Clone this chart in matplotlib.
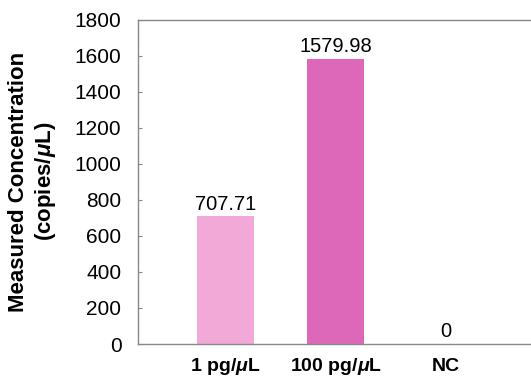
import matplotlib
matplotlib.use("Agg")
import matplotlib.pyplot as plt

plt.rcParams.update({
    "font.family": "Liberation Sans",
    "mathtext.fontset": "custom",
    "mathtext.it": "Liberation Sans:italic:bold",
    "mathtext.rm": "Liberation Sans:bold",
})

categories = [r"1 pg/$\mu$L", r"100 pg/$\mu$L", "NC"]
values = [707.71, 1579.98, 0]
value_labels = ["707.71", "1579.98", "0"]
colors = ["#F3A9D7", "#DD68BA", "#DD68BA"]

fig = plt.figure(figsize=(5.31, 3.76), dpi=100)
ax = fig.add_axes([0.26, 0.085, 0.74, 0.863])

x = range(len(categories))
ax.bar(x, values, width=0.52, color=colors, zorder=2)
for xi, v, lab in zip(x, values, value_labels):
    ax.annotate(lab, (xi, v), xytext=(0, 2), textcoords="offset points",
                ha="center", va="bottom", fontsize=14.5)

ax.set_xlim(-0.79, 2.77)
ax.set_ylim(0, 1800)
ax.set_yticks(range(0, 1801, 200))
ax.set_xticks(list(x))
ax.set_xticklabels(categories, fontsize=14, fontweight="bold")
for lbl in ax.get_xticklabels():
    lbl.set_verticalalignment("baseline")
ax.tick_params(axis="y", direction="in", length=3, color="#888888",
               labelsize=15, pad=12)
ax.tick_params(axis="x", length=0, pad=19.5)
for s in ["top", "bottom", "left"]:
    ax.spines[s].set_color("#888888")
    ax.spines[s].set_linewidth(1.0)
ax.spines["right"].set_visible(False)
ax.set_ylabel("Measured Concentration\n(copies/$\\mu$L)", fontsize=16,
              fontweight="bold", labelpad=12)

fig.savefig("out.png", dpi=100)
